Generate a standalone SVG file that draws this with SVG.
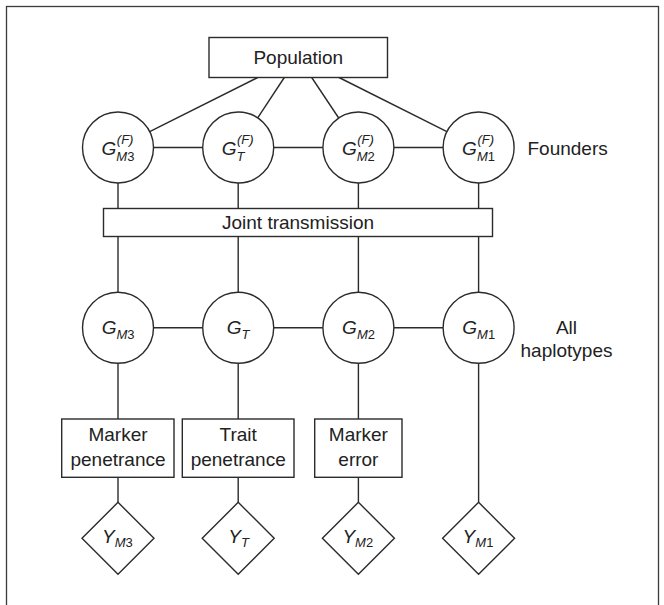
<svg xmlns="http://www.w3.org/2000/svg" width="664" height="605" viewBox="0 0 664 605">
  <style>
    .frame { fill: none; stroke: #3a3a3a; stroke-width: 1.3; }
    .shape { fill: #ffffff; stroke: #2b2b2b; stroke-width: 1.4; }
    .edge { fill: none; stroke: #2b2b2b; stroke-width: 1.4; }
    text { font-family: "Liberation Sans", Arial, sans-serif; fill: #222222; }
    .lbl { font-size: 19px; }
    .mid { text-anchor: middle; }
    .it { font-style: italic; }
    .sm { font-size: 13px; }
  </style>

  <!-- outer frame (open at the bottom edge of the canvas) -->
  <rect class="frame" x="6.5" y="6.5" width="652" height="620"/>

  <!-- connectors -->
  <g id="connectors">
    <!-- population to founders -->
    <line class="edge" x1="257.7" y1="77.5" x2="149.7" y2="131.6"/>
    <line class="edge" x1="284.3" y1="77.5" x2="257.7" y2="117.9"/>
    <line class="edge" x1="311.7" y1="77.5" x2="338.7" y2="118.0"/>
    <line class="edge" x1="339" y1="77.5" x2="446.9" y2="131.6"/>
    <!-- founder row links -->
    <line class="edge" x1="153.5" y1="147.5" x2="202.7" y2="147.5"/>
    <line class="edge" x1="273.7" y1="147.5" x2="322.9" y2="147.5"/>
    <line class="edge" x1="393.9" y1="147.5" x2="443.1" y2="147.5"/>
    <!-- founders to joint transmission -->
    <line class="edge" x1="118" y1="183" x2="118" y2="208.5"/>
    <line class="edge" x1="238.2" y1="183" x2="238.2" y2="208.5"/>
    <line class="edge" x1="358.4" y1="183" x2="358.4" y2="208.5"/>
    <line class="edge" x1="478.6" y1="183" x2="478.6" y2="208.5"/>
    <!-- joint transmission to haplotypes -->
    <line class="edge" x1="118" y1="236.5" x2="118" y2="292.3"/>
    <line class="edge" x1="238.2" y1="236.5" x2="238.2" y2="292.3"/>
    <line class="edge" x1="358.4" y1="236.5" x2="358.4" y2="292.3"/>
    <line class="edge" x1="478.6" y1="236.5" x2="478.6" y2="292.3"/>
    <!-- haplotype row links -->
    <line class="edge" x1="153.5" y1="327.8" x2="202.7" y2="327.8"/>
    <line class="edge" x1="273.7" y1="327.8" x2="322.9" y2="327.8"/>
    <line class="edge" x1="393.9" y1="327.8" x2="443.1" y2="327.8"/>
    <!-- haplotypes to penetrance / error boxes -->
    <line class="edge" x1="118" y1="363.3" x2="118" y2="419"/>
    <line class="edge" x1="238.2" y1="363.3" x2="238.2" y2="419"/>
    <line class="edge" x1="358.4" y1="363.3" x2="358.4" y2="419"/>
    <!-- boxes to observations -->
    <line class="edge" x1="118" y1="477.3" x2="118" y2="502.3"/>
    <line class="edge" x1="238.2" y1="477.3" x2="238.2" y2="502.3"/>
    <line class="edge" x1="358.4" y1="477.3" x2="358.4" y2="502.3"/>
    <line class="edge" x1="478.6" y1="363.3" x2="478.6" y2="502.3"/>
  </g>

  <!-- population -->
  <g id="population">
    <rect class="shape" x="209" y="37.5" width="178.5" height="40"/>
    <text class="lbl mid" x="298.3" y="63.5">Population</text>
  </g>

  <!-- founder haplotypes: G with locus below and (F) above -->
  <g id="founder-m3">
    <circle class="shape" cx="118" cy="147.5" r="35.5"/>
    <text class="lbl" x="101.5" y="155"><tspan class="it">G</tspan><tspan class="sm" dy="5.8"><tspan class="it">M</tspan>3</tspan><tspan class="sm it" x="116.8" dy="-17.3">(F)</tspan></text>
  </g>
  <g id="founder-t">
    <circle class="shape" cx="238.2" cy="147.5" r="35.5"/>
    <text class="lbl" x="221.7" y="155"><tspan class="it">G</tspan><tspan class="sm it" dy="5.8">T</tspan><tspan class="sm it" x="237" dy="-17.3">(F)</tspan></text>
  </g>
  <g id="founder-m2">
    <circle class="shape" cx="358.4" cy="147.5" r="35.5"/>
    <text class="lbl" x="341.9" y="155"><tspan class="it">G</tspan><tspan class="sm" dy="5.8"><tspan class="it">M</tspan>2</tspan><tspan class="sm it" x="357.2" dy="-17.3">(F)</tspan></text>
  </g>
  <g id="founder-m1">
    <circle class="shape" cx="478.6" cy="147.5" r="35.5"/>
    <text class="lbl" x="462.1" y="155"><tspan class="it">G</tspan><tspan class="sm" dy="5.8"><tspan class="it">M</tspan>1</tspan><tspan class="sm it" x="477.4" dy="-17.3">(F)</tspan></text>
  </g>
  <g id="founders-label">
    <text class="lbl" x="527.5" y="155">Founders</text>
  </g>

  <!-- joint transmission -->
  <g id="joint-transmission">
    <rect class="shape" x="103.5" y="208.5" width="389" height="28"/>
    <text class="lbl mid" x="298" y="229.3">Joint transmission</text>
  </g>

  <!-- all haplotypes -->
  <g id="hap-m3">
    <circle class="shape" cx="118" cy="327.8" r="35.5"/>
    <text class="lbl" x="101.7" y="334"><tspan class="it">G</tspan><tspan class="sm" dy="5"><tspan class="it">M</tspan>3</tspan></text>
  </g>
  <g id="hap-t">
    <circle class="shape" cx="238.2" cy="327.8" r="35.5"/>
    <text class="lbl" x="226.7" y="334"><tspan class="it">G</tspan><tspan class="sm it" dy="5">T</tspan></text>
  </g>
  <g id="hap-m2">
    <circle class="shape" cx="358.4" cy="327.8" r="35.5"/>
    <text class="lbl" x="342.1" y="334"><tspan class="it">G</tspan><tspan class="sm" dy="5"><tspan class="it">M</tspan>2</tspan></text>
  </g>
  <g id="hap-m1">
    <circle class="shape" cx="478.6" cy="327.8" r="35.5"/>
    <text class="lbl" x="462.3" y="334"><tspan class="it">G</tspan><tspan class="sm" dy="5"><tspan class="it">M</tspan>1</tspan></text>
  </g>
  <g id="haplotypes-label">
    <text class="lbl mid" x="566.5" y="334.3">All</text>
    <text class="lbl mid" x="566.5" y="357.3">haplotypes</text>
  </g>

  <!-- penetrance and error models -->
  <g id="marker-penetrance">
    <rect class="shape" x="61.7" y="419" width="112.3" height="58.3"/>
    <text class="lbl mid" x="118" y="441">Marker</text>
    <text class="lbl mid" x="118" y="466">penetrance</text>
  </g>
  <g id="trait-penetrance">
    <rect class="shape" x="182.3" y="419" width="111.7" height="58.3"/>
    <text class="lbl mid" x="238.2" y="441">Trait</text>
    <text class="lbl mid" x="238.2" y="466">penetrance</text>
  </g>
  <g id="marker-error">
    <rect class="shape" x="314.7" y="419" width="87.3" height="58.3"/>
    <text class="lbl mid" x="358.4" y="441">Marker</text>
    <text class="lbl mid" x="358.4" y="466">error</text>
  </g>

  <!-- observed phenotypes -->
  <g id="obs-m3">
    <polygon class="shape" points="118,502.3 154,538.3 118,574.3 82,538.3"/>
    <text class="lbl" x="102" y="542.7"><tspan class="it">Y</tspan><tspan class="sm" dy="4"><tspan class="it">M</tspan>3</tspan></text>
  </g>
  <g id="obs-t">
    <polygon class="shape" points="238.2,502.3 274.2,538.3 238.2,574.3 202.2,538.3"/>
    <text class="lbl" x="228.2" y="542.7"><tspan class="it">Y</tspan><tspan class="sm it" dy="4">T</tspan></text>
  </g>
  <g id="obs-m2">
    <polygon class="shape" points="358.4,502.3 394.4,538.3 358.4,574.3 322.4,538.3"/>
    <text class="lbl" x="342.4" y="542.7"><tspan class="it">Y</tspan><tspan class="sm" dy="4"><tspan class="it">M</tspan>2</tspan></text>
  </g>
  <g id="obs-m1">
    <polygon class="shape" points="478.6,502.3 514.6,538.3 478.6,574.3 442.6,538.3"/>
    <text class="lbl" x="462.6" y="542.7"><tspan class="it">Y</tspan><tspan class="sm" dy="4"><tspan class="it">M</tspan>1</tspan></text>
  </g>
</svg>
